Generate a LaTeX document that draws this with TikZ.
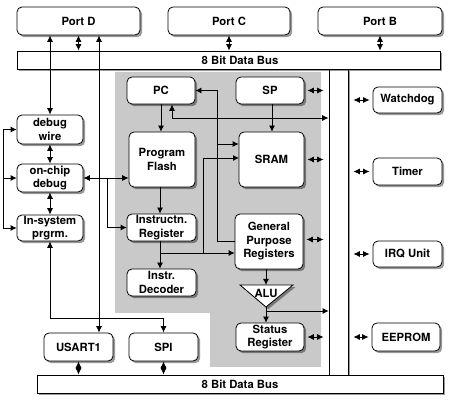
\documentclass[tikz,border=0pt]{standalone}
\usepackage{fontspec}
\setmainfont{TeX Gyre Heros}
\usetikzlibrary{shadows,arrows.meta,calc}
\definecolor{panel}{RGB}{201,201,201}
\begin{document}
\begin{tikzpicture}[x=1pt,y=-1pt,
  every node/.style={font=\bfseries\fontsize{11.3}{13.5}\selectfont, align=center, inner sep=0pt},
  shd/.style={drop shadow={shadow xshift=2.2pt, shadow yshift=-2.2pt, fill=black, opacity=0.4}},
  box/.style={draw, line width=0.8pt, rounded corners=5pt, fill=white, shd},
  bus/.style={draw, line width=0.8pt, fill=white, shd},
  ln/.style={line width=0.8pt},
  arr/.style={ln, -{Latex[length=6pt,width=6pt]}},
  dbl/.style={ln, {Latex[length=6.5pt,width=6pt]}-{Latex[length=6.5pt,width=6pt]}},
]
\useasboundingbox (0,0) rectangle (453,406);
\fill[white] (0,0) rectangle (453,406);

% grey CPU panel
\fill[panel] (115,72) -- (321,72) -- (321,367) -- (210,367) -- (210,313) -- (115,313) -- cycle;

% buses
\node[bus, minimum width=19pt, minimum height=306pt] (vbus) at (338.5,222) {};
\node[bus, minimum width=423pt, minimum height=18pt] (tbus) at (228.5,60) {};
\node (tbuslabel) at (240,60) {8 Bit Data Bus};
\node[bus, minimum width=406pt, minimum height=18pt] (bbus) at (240,384) {};
\node (bbuslabel) at (240,384) {8 Bit Data Bus};

% ports
\node[box, minimum width=123pt, minimum height=28pt] (portD) at (78.5,21) {Port D};
\node[box, minimum width=122pt, minimum height=28pt] (portC) at (229,21) {Port C};
\node[box, minimum width=124pt, minimum height=28pt] (portB) at (380,21) {Port B};

% left column
\node[box, minimum width=66pt, minimum height=29pt] (dw) at (50,129.5) {debug\\wire};
\node[box, minimum width=66pt, minimum height=28pt] (ocd) at (50,178) {on-chip\\debug};
\node[box, minimum width=66pt, minimum height=26pt] (isp) at (50,228) {In-system\\prgrm.};
\node[box, minimum width=69pt, minimum height=28pt] (usart) at (78.5,347) {USART1};
\node[box, minimum width=69pt, minimum height=28pt] (spi) at (163.5,347) {SPI};

% CPU
\node[box, minimum width=68pt, minimum height=27pt] (pc) at (161,90.5) {PC};
\node[box, minimum width=68pt, minimum height=27pt] (sp) at (270,90.5) {SP};
\node[box, minimum width=66pt, minimum height=55pt] (flash) at (162,159.5) {Program\\Flash};
\node[box, minimum width=65pt, minimum height=55pt] (sram) at (271.5,159.5) {SRAM};
\node[box, minimum width=69pt, minimum height=27pt] (ir) at (161.5,227.5) {Instructn.\\Register};
\node[box, minimum width=69pt, minimum height=27pt] (idec) at (161.5,282.5) {Instr.\\Decoder};
\node[box, minimum width=68pt, minimum height=55pt] (gpr) at (269,241.5) {General\\Purpose\\Registers};
\path[draw, ln, fill=white, shd] (240,285) -- (293,285) -- (266,307) -- cycle;
\coordinate (alutop) at (266,285);
\coordinate (aluapex) at (266,307);
\node (alu) at (266,293) {ALU};
\node[box, minimum width=68pt, minimum height=28pt] (status) at (270,337) {Status\\Register};

% peripherals
\node[box, minimum width=69pt, minimum height=26pt] (wdt) at (407.5,100) {Watchdog};
\node[box, minimum width=69pt, minimum height=27pt] (timer) at (407.5,171.5) {Timer};
\node[box, minimum width=69pt, minimum height=26pt] (irq) at (407.5,254) {IRQ Unit};
\node[box, minimum width=68pt, minimum height=28pt] (eeprom) at (406,337) {EEPROM};

% port <-> bus
\draw[dbl] (portD.south) -- (portD.south |- tbus.north);
\draw[dbl] (portC.south) -- (portC.south |- tbus.north);
\draw[dbl] (portB.south) -- (portB.south |- tbus.north);
\draw[dbl] (usart.south) -- (usart.south |- bbus.north);
\draw[dbl] (spi.south) -- (spi.south |- bbus.north);

% left column connections
\draw[dbl] (portD.south -| dw.north) -- (dw.north);
\draw[dbl] ([xshift=20.5]portD.south) -- ([xshift=20.5]usart.north);
\draw[dbl] (dw.south) -- (ocd.north);
\draw[dbl] (ocd.south) -- (isp.north);
\coordinate (lb) at (3,130);
\draw[ln] (dw.west -| lb) -- (isp.west -| lb);
\draw[arr] (dw.west -| lb) -- (dw.west);
\draw[arr] (ocd.west -| lb) -- (ocd.west);
\draw[arr] (isp.west -| lb) -- (isp.west);
\draw[dbl] (ocd.east) -- (ocd.east -| flash.west);
\coordinate (obr) at (107,178);
\draw[arr] (obr) |- (ir.west);
\coordinate (ispturn) at (50,318);
\draw[dbl] (isp.south) -- (ispturn) -| (spi.north);

% CPU internal
\draw[arr] (pc.south) -- (pc.south |- flash.north);
\coordinate (pcb) at (172,118);
\draw[dbl] ([xshift=11]pc.south) -- (pcb) -- (pcb -| vbus.west);
\draw[arr] (sp.south -| 272,0) -- (sram.north -| 272,0);
\coordinate (v1) at (217,241.5);
\draw[arr] (gpr.west) -- (v1) |- (pc.east);
\coordinate (v1b) at (217,144);
\draw[arr] (v1b) -- (v1b -| sram.west);
\draw[arr] (flash.south -| 160,0) -- (ir.north -| 160,0);
\draw[arr] (ir.south -| 160,0) -- (idec.north -| 160,0);
\coordinate (irb) at (160,253);
\draw[arr] (irb) -- (irb -| gpr.west);
\coordinate (irc) at (203,253);
\coordinate (sramin) at (239,158);
\draw[arr] (irc) |- (sramin);
\draw[arr] (gpr.south -| alutop) -- (alutop);
\draw[arr] (aluapex) -- (aluapex |- status.north);
\coordinate (alub) at (266,311);
\draw[arr] (alub) -- (alub -| vbus.west);

% CPU <-> bus
\draw[dbl, shorten <=3pt, shorten >=5pt] (sp.east) -- (sp.east -| vbus.west);
\draw[dbl, shorten <=3pt, shorten >=5pt] (sram.east) -- (sram.east -| vbus.west);
\draw[dbl, shorten <=3pt, shorten >=5pt] ([yshift=2]gpr.east) -- ([yshift=2]gpr.east -| vbus.west);
\draw[dbl, shorten <=3pt, shorten >=5pt] (status.east) -- (status.east -| vbus.west);

% bus <-> peripherals
\draw[dbl, shorten <=5pt, shorten >=3pt] (wdt.west -| vbus.east) -- (wdt.west);
\draw[dbl, shorten <=5pt, shorten >=3pt] (timer.west -| vbus.east) -- (timer.west);
\draw[dbl, shorten <=5pt, shorten >=3pt] (irq.west -| vbus.east) -- (irq.west);
\draw[dbl, shorten <=5pt, shorten >=3pt] (eeprom.west -| vbus.east) -- (eeprom.west);
\end{tikzpicture}
\end{document}
